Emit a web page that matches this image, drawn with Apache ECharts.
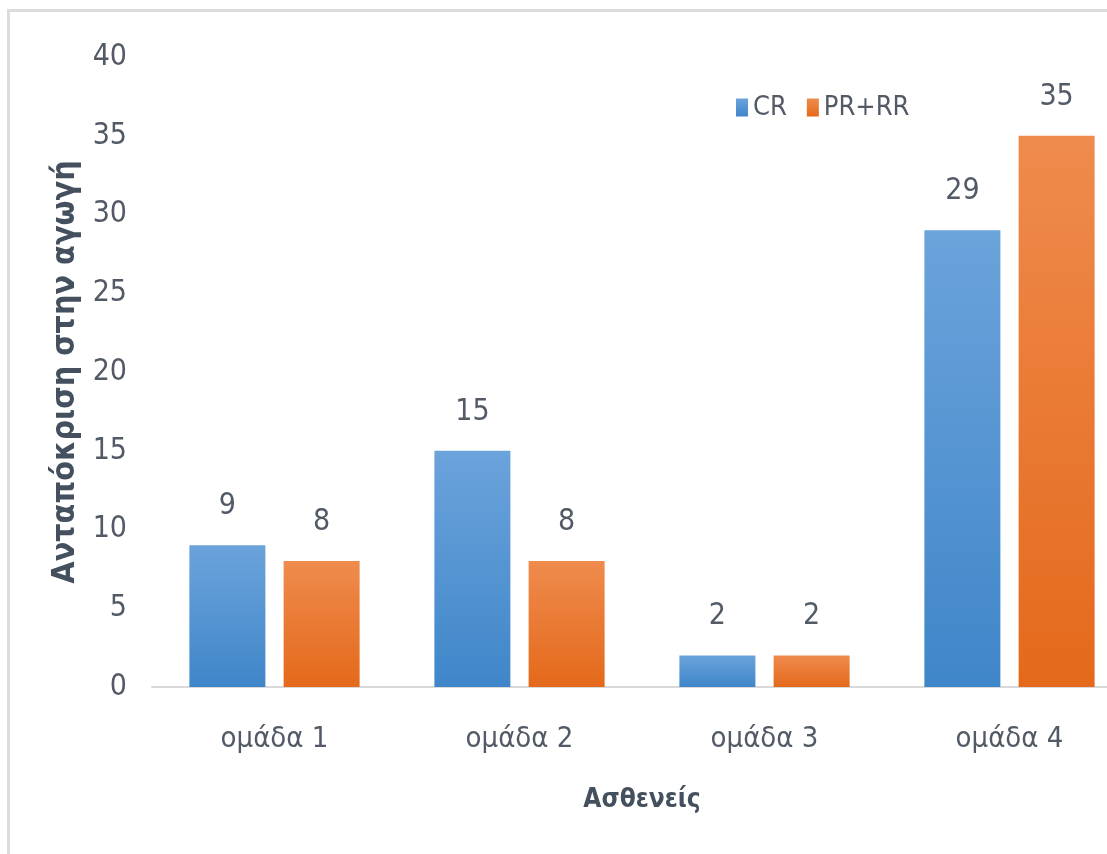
<!DOCTYPE html>
<html>
<head>
<meta charset="utf-8">
<script src="https://cdn.jsdelivr.net/npm/echarts@6/dist/echarts.min.js"></script>
<style>
  html, body { margin: 0; padding: 0; background: #ffffff; overflow: hidden; }
  #frame { position: absolute; left: 7px; top: 9px; width: 1100px; height: 845px;
           border-left: 3px solid #dcdcdc; border-top: 3px solid #dcdcdc; }
  #chart { position: absolute; left: 0; top: 0; width: 1107px; height: 854px; }
</style>
</head>
<body>
<div id="frame"></div>
<div id="chart"></div>
<script>
const categories = ['ομάδα 1', 'ομάδα 2', 'ομάδα 3', 'ομάδα 4'];
const seriesNames = ['CR', 'PR+RR'];
const crValues = [9, 15, 2, 29];
const prrrValues = [8, 8, 2, 35];
const yTicks = [0, 5, 10, 15, 20, 25, 30, 35, 40];
const yAxisTitle = 'Ανταπόκριση στην αγωγή';
const xAxisTitle = 'Ασθενείς';

const FONT = "'Liberation Sans Narrow', 'DejaVu Sans Condensed', 'Open Sans', sans-serif";
const TXT = '#525a66';

function grad(top, bottom) {
  return new echarts.graphic.LinearGradient(0, 0, 0, 1, [
    { offset: 0, color: top }, { offset: 1, color: bottom }
  ]);
}

const chart = echarts.init(document.getElementById('chart'), null, { renderer: 'canvas' });
chart.setOption({
  animation: false,
  backgroundColor: 'transparent',
  textStyle: { fontFamily: FONT },
  legend: {
    data: seriesNames,
    left: 731, top: 89,
    icon: 'rect',
    itemWidth: 12, itemHeight: 18, itemGap: 20,
    textStyle: { fontFamily: FONT, fontSize: 27, color: TXT }
  },
  grid: { left: 152, width: 980, top: 57, height: 630, containLabel: false, outerBoundsMode: 'none' },
  xAxis: {
    type: 'category',
    data: categories,
    name: xAxisTitle,
    nameLocation: 'middle',
    nameGap: 100,
    nameTextStyle: { fontFamily: FONT, fontSize: 26, fontWeight: 'bold', color: '#44505e' },
    axisLine: { show: true, lineStyle: { color: '#d9d9d9', width: 2 } },
    axisTick: { show: false },
    axisLabel: { fontFamily: FONT, fontSize: 29, color: TXT, margin: 38 }
  },
  yAxis: {
    type: 'value',
    min: yTicks[0], max: yTicks[yTicks.length - 1], interval: 5,
    name: yAxisTitle,
    nameLocation: 'middle',
    nameGap: 63,
    nameRotate: 90,
    nameTextStyle: { fontFamily: FONT, fontSize: 32, fontWeight: 'bold', color: '#44505e' },
    axisLine: { show: false },
    axisTick: { show: false },
    splitLine: { show: false },
    axisLabel: { fontFamily: FONT, fontSize: 30, color: TXT, margin: 25 }
  },
  series: [
    {
      name: seriesNames[0], type: 'bar', data: crValues,
      barWidth: 76, barGap: '24%',
      itemStyle: { color: grad('#6ba3db', '#3f86c9') },
      label: { show: true, position: 'top', distance: 24, fontFamily: FONT, fontSize: 30, color: TXT }
    },
    {
      name: seriesNames[1], type: 'bar', data: prrrValues,
      barWidth: 76,
      itemStyle: { color: grad('#ef8b4d', '#e4691b') },
      label: { show: true, position: 'top', distance: 24, fontFamily: FONT, fontSize: 30, color: TXT }
    }
  ]
});
</script>
</body>
</html>
